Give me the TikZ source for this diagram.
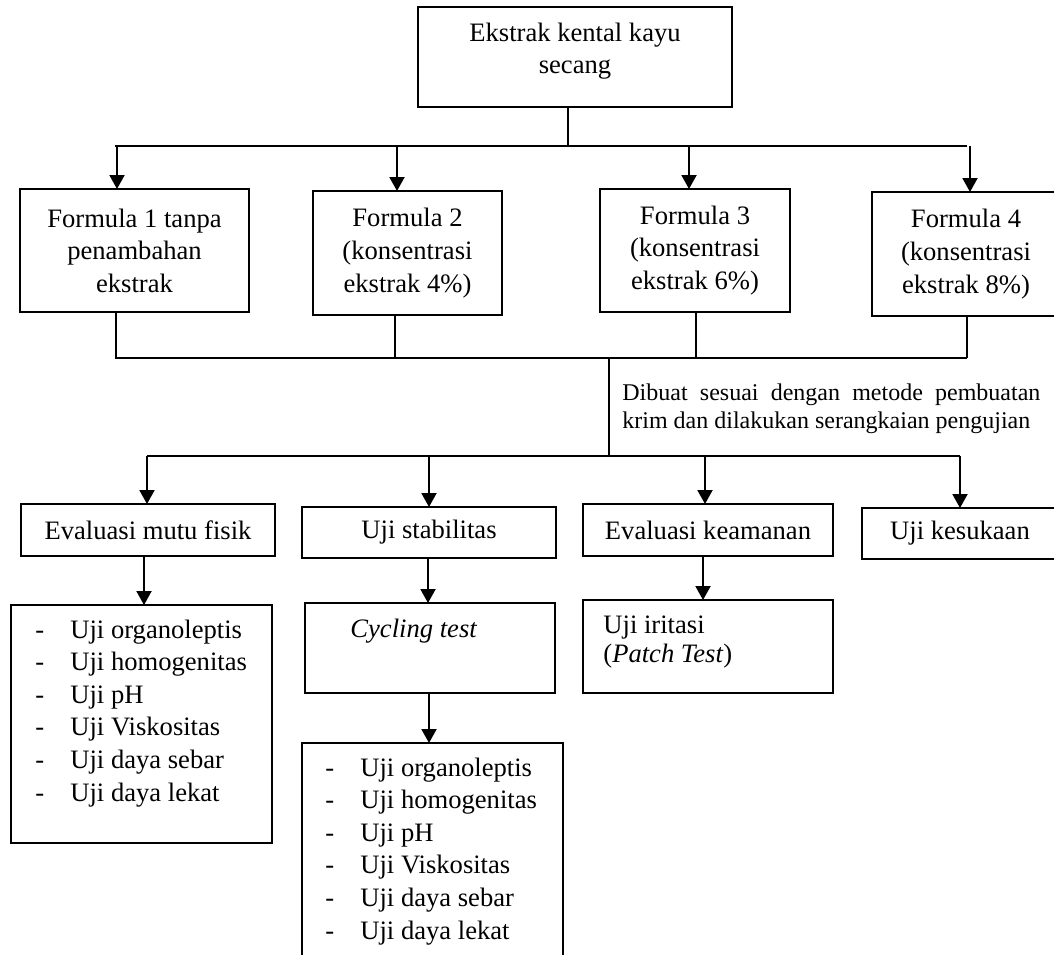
\documentclass[tikz,border=0pt]{standalone}
\usepackage{fontspec}
\setmainfont{Liberation Serif}
\usepackage{tikz}
\usetikzlibrary{arrows.meta,fit}
\newcommand{\fsmain}{\fontsize{13.3}{16.3}\selectfont}
\newcommand{\fsnote}{\fontsize{12}{14}\selectfont}
\newcommand{\itm}[1]{\makebox[17.5pt][l]{-}#1}

\begin{document}
\begin{tikzpicture}[x=0.5pt, y=-0.5pt, font=\fsmain,
  box/.style={draw, line width=0.65pt, inner sep=0pt, outer sep=0pt, align=center},
  link/.style={line width=1pt},
  arr/.style={line width=1pt, -{Triangle[length=7pt,width=7.5pt]}},
  item/.style={anchor=base west, inner sep=0pt}]
  \useasboundingbox (0,0) rectangle (1054,954);
  \clip (0,0) rectangle (1054,954);
  \fill[white] (0,0) rectangle (1054,954);
  \node[box, fit={(418,7)(732,107)}] (top) {};
  \node[align=center] (toptxt) at (575,51) {Ekstrak kental kayu\\secang};
  \node[box, minimum width=114.5pt, minimum height=61.5pt] (f1) at (134.5,250.5) {Formula 1 tanpa\\penambahan\\ekstrak};
  \node[box, minimum width=94.5pt, minimum height=62pt] (f2) at (407.5,253) {Formula 2\\(konsentrasi\\ekstrak 4\%)};
  \node[box, minimum width=95pt, minimum height=61.5pt] (f3) at (695,250.5) {Formula 3\\(konsentrasi\\ekstrak 6\%)};
  \node[box, minimum width=94pt, minimum height=62pt] (f4) at (966,254) {Formula 4\\(konsentrasi\\ekstrak 8\%)};
  \coordinate (b1l) at (115,146); \coordinate (b1r) at (967,146);
  \draw[link] (top.south -| 568,0) -- (b1l -| 568,0);
  \draw[link] (b1l) -- (b1r);
  \foreach \n/\x in {f1/117,f2/397,f3/689,f4/970}
    \draw[arr] (b1l -| \x,0) -- (\n.north -| \x,0);
  \coordinate (b2l) at (115,358); \coordinate (b2r) at (967,358);
  \foreach \n/\x in {f1/116,f2/395,f3/696,f4/967}
    \draw[link] (\n.south -| \x,0) -- (b2l -| \x,0);
  \draw[link] (b2l) -- (b2r);
  \coordinate (b3l) at (147,456); \coordinate (b3r) at (960,456);
  \draw[link] (b2l -| 609,0) -- (b3l -| 609,0);
  \node[font=\fsnote, text width=209pt, align=justify, anchor=base west, inner sep=0pt] (note) at (622,400)
    {\tolerance=9999 Dibuat sesuai dengan metode pembuatan krim dan dilakukan serangkaian pengujian};
  \draw[link] (b3l) -- (b3r);
  \node[box, minimum width=127pt, minimum height=26pt] (mutu) at (148,530) {Evaluasi mutu fisik};
  \node[box, minimum width=127pt, minimum height=25.5pt] (stab) at (429,532.5) {Uji stabilitas};
  \node[box, minimum width=125pt, minimum height=26pt] (aman) at (708,530) {Evaluasi keamanan};
  \node[box, minimum width=98pt, minimum height=25.5pt] (suka) at (960,533.5) {Uji kesukaan};
  \foreach \n/\x in {mutu/147,stab/429,aman/705,suka/960}
    \draw[arr] (b3l -| \x,0) -- (\n.north -| \x,0);
  \node[box, fit={(11,605)(272,843)}] (fisik) {};
  \node[box, fit={(305,603)(555,693)}] (cyc) {};
  \node[box, fit={(583,600)(833,693)}] (irit) {};
  \node[box, fit={(302,743)(563,990)}] (ulang) {};
  \foreach \a/\b/\x in {mutu/fisik/144,stab/cyc/428,aman/irit/703,cyc/ulang/429}
    \draw[arr] (\a.south -| \x,0) -- (\b.north -| \x,0);
  \node[item] (cyctxt) at (350,637) {\textit{Cycling test}};
  \node[item] (irit1) at (603,633) {Uji iritasi};
  \node[item] (irit2) at (603,662) {(\textit{Patch Test})};
  \foreach \t [count=\i from 0] in {Uji organoleptis,Uji homogenitas,Uji pH,Uji Viskositas,Uji daya sebar,Uji daya lekat}{
    \node[item] (fa\i) at (35,638+32.6*\i) {\itm{\t}};
    \node[item] (fb\i) at (325,776+32.6*\i) {\itm{\t}};
  }
\end{tikzpicture}
\end{document}
